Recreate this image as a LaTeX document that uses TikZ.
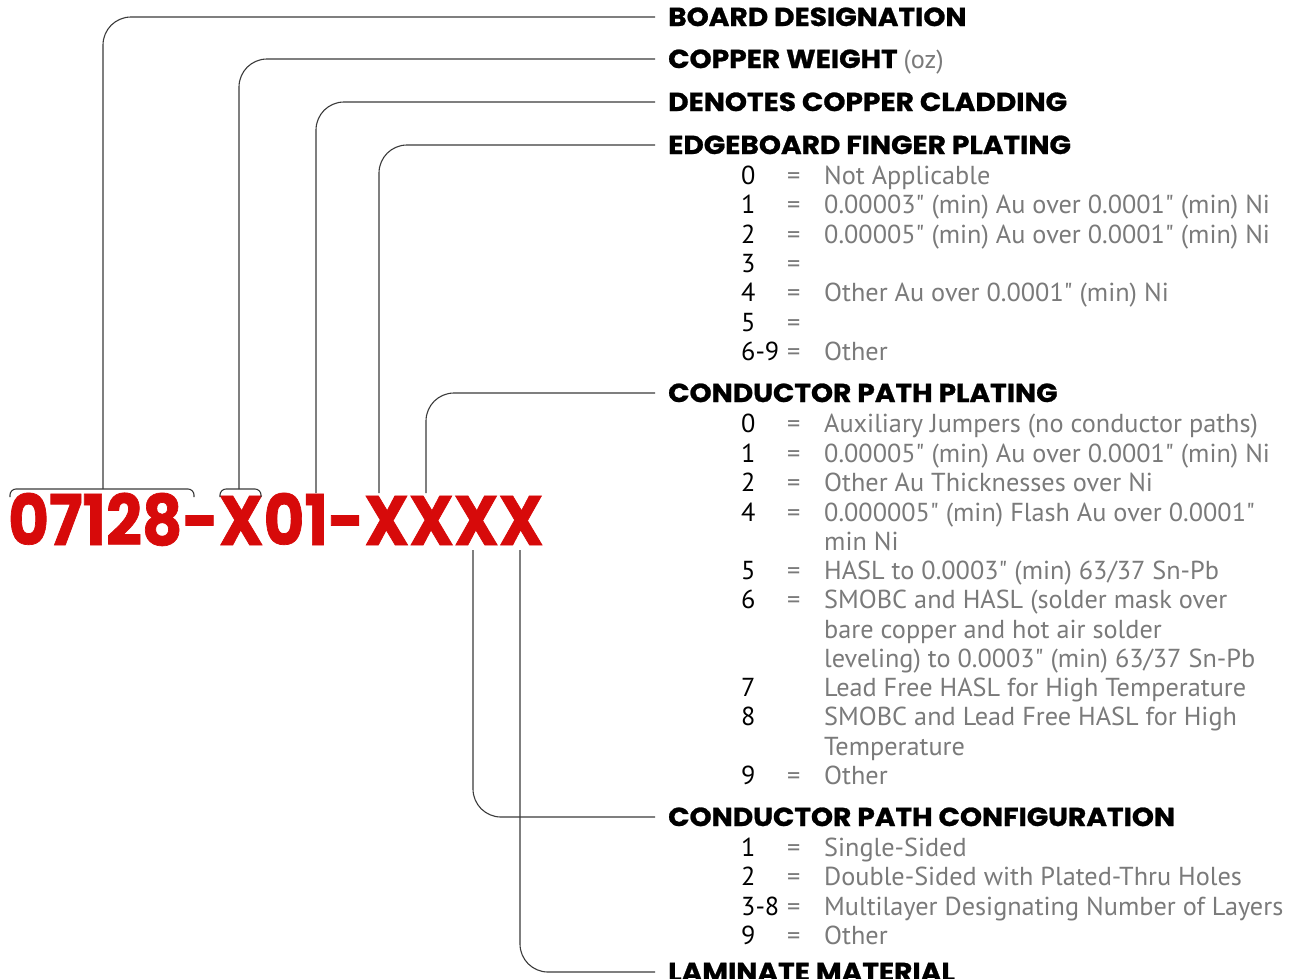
\documentclass[tikz,border=0pt]{standalone}
\usepackage{fontspec}
\setmainfont{PT Sans}[FakeStretch=1.01, Ligatures=TeXOff]
\newfontfamily\headfont{Poppins}[FakeStretch=1.08, FakeBold=1]
\newfontfamily\partfont{Poppins}[FakeStretch=0.895, FakeBold=1]
\usetikzlibrary{positioning}
\definecolor{cPart}{HTML}{D70A0A}
\definecolor{cItem}{HTML}{7A7A7A}
\definecolor{cLead}{HTML}{3A3A3A}
\newcommand{\inch}{\char34\relax}
\tikzset{
  lead/.style={draw=cLead, line width=1.1pt, rounded corners=28pt},
  brack/.style={draw=cLead, line width=1.1pt, rounded corners=6pt},
  heading/.style={anchor=west, inner sep=0pt, text height=18pt, text depth=0pt,
    font=\headfont\bfseries\fontsize{26}{26}\selectfont},
  code/.style={anchor=base west, inner sep=0pt, font=\fontsize{26}{26}\selectfont},
  desc/.style={code, text=cItem},
  partno/.style={anchor=base west, inner sep=0pt, text=cPart,
    font=\partfont\bfseries\fontsize{70}{70}\selectfont},
}
\begin{document}
\begin{tikzpicture}[x=1pt, y=-1pt]
    \useasboundingbox (0,0) rectangle (1293,978);
    % part number
    \node[partno] (part) at (8,545) {07128-X01-XXXX};
    \draw[brack] (10,497) -- (10,489) -- (194,489) -- (194,497);
    \draw[brack] (220,497) -- (220,489) -- (261,489) -- (261,497);
    \coordinate (bBoard) at (103,489);
    \coordinate (bCopper) at (239,489);
    \coordinate (bClad) at (316,493);
    \coordinate (bFinger) at (379,493);
    \coordinate (bPlating) at (426,493);
    \coordinate (bConfig) at (473,550);
    \coordinate (bLaminate) at (520,550);
    % headings
    \node[heading] (hBoard) at (668,17) {BOARD DESIGNATION};
    \node[heading] (hCopper) at (668,59) {COPPER WEIGHT {\mdseries\fontspec{PT Sans}[FakeStretch=1.01]\color{cItem}(oz)}};
    \node[heading] (hClad) at (668,102) {DENOTES COPPER CLADDING};
    \node[heading] (hFinger) at (668,145) {EDGEBOARD FINGER PLATING};
    \node[heading] (hPlating) at (668,393) {CONDUCTOR PATH PLATING};
    \node[heading] (hConfig) at (668,817) {CONDUCTOR PATH CONFIGURATION};
    \node[heading] (hLaminate) at (668,972) {LAMINATE MATERIAL};
    % leaders
    \draw[lead] ([xshift=-13pt]hBoard.west) -| (bBoard);
    \draw[lead] ([xshift=-13pt]hCopper.west) -| (bCopper);
    \draw[lead] ([xshift=-13pt]hClad.west) -| (bClad);
    \draw[lead] ([xshift=-13pt]hFinger.west) -| (bFinger);
    \draw[lead] ([xshift=-13pt]hPlating.west) -| (bPlating);
    \draw[lead] (bConfig) |- ([xshift=-13pt]hConfig.west);
    \draw[lead] (bLaminate) |- ([xshift=-13pt]hLaminate.west);
    % finger plating codes
    \foreach \y/\n/\e/\t in {184/0/=/{Not Applicable},
        213/1/=/{0.00003\inch{} (min) Au over 0.0001\inch{} (min) Ni},
        243/2/=/{0.00005\inch{} (min) Au over 0.0001\inch{} (min) Ni},
        272/3/=/{}, 301/4/=/{Other Au over 0.0001\inch{} (min) Ni},
        331/5/=/{}, 360/6-9/=/{Other}}{
      \node[code] at (741,\y) {\n};
      \node[desc] at (787,\y) {\e};
      \node[desc] at (824,\y) {\t};
    }
    % conductor path plating codes
    \foreach \y/\n/\e/\t in {432/0/=/{Auxiliary Jumpers (no conductor paths)},
        462/1/=/{0.00005\inch{} (min) Au over 0.0001\inch{} (min) Ni},
        491/2/=/{Other Au Thicknesses over Ni},
        521/4/=/{0.000005\inch{} (min) Flash Au over 0.0001\inch},
        550//{}/{min Ni},
        579/5/=/{HASL to 0.0003\inch{} (min) 63/37 Sn-Pb},
        608/6/=/{SMOBC and HASL (solder mask over},
        638//{}/{bare copper and hot air solder},
        667//{}/{leveling) to 0.0003\inch{} (min) 63/37 Sn-Pb},
        696/7/{}/{Lead Free HASL for High Temperature},
        725/8/{}/{SMOBC and Lead Free HASL for High},
        755//{}/{Temperature},
        784/9/=/{Other}}{
      \node[code] at (741,\y) {\n};
      \node[desc] at (787,\y) {\e};
      \node[desc] at (824,\y) {\t};
    }
    % conductor path configuration codes
    \foreach \y/\n/\e/\t in {856/1/=/{Single-Sided},
        885/2/=/{Double-Sided with Plated-Thru Holes},
        915/3-8/=/{Multilayer Designating Number of Layers},
        944/9/=/{Other}}{
      \node[code] at (741,\y) {\n};
      \node[desc] at (787,\y) {\e};
      \node[desc] at (824,\y) {\t};
    }
\end{tikzpicture}
\end{document}
